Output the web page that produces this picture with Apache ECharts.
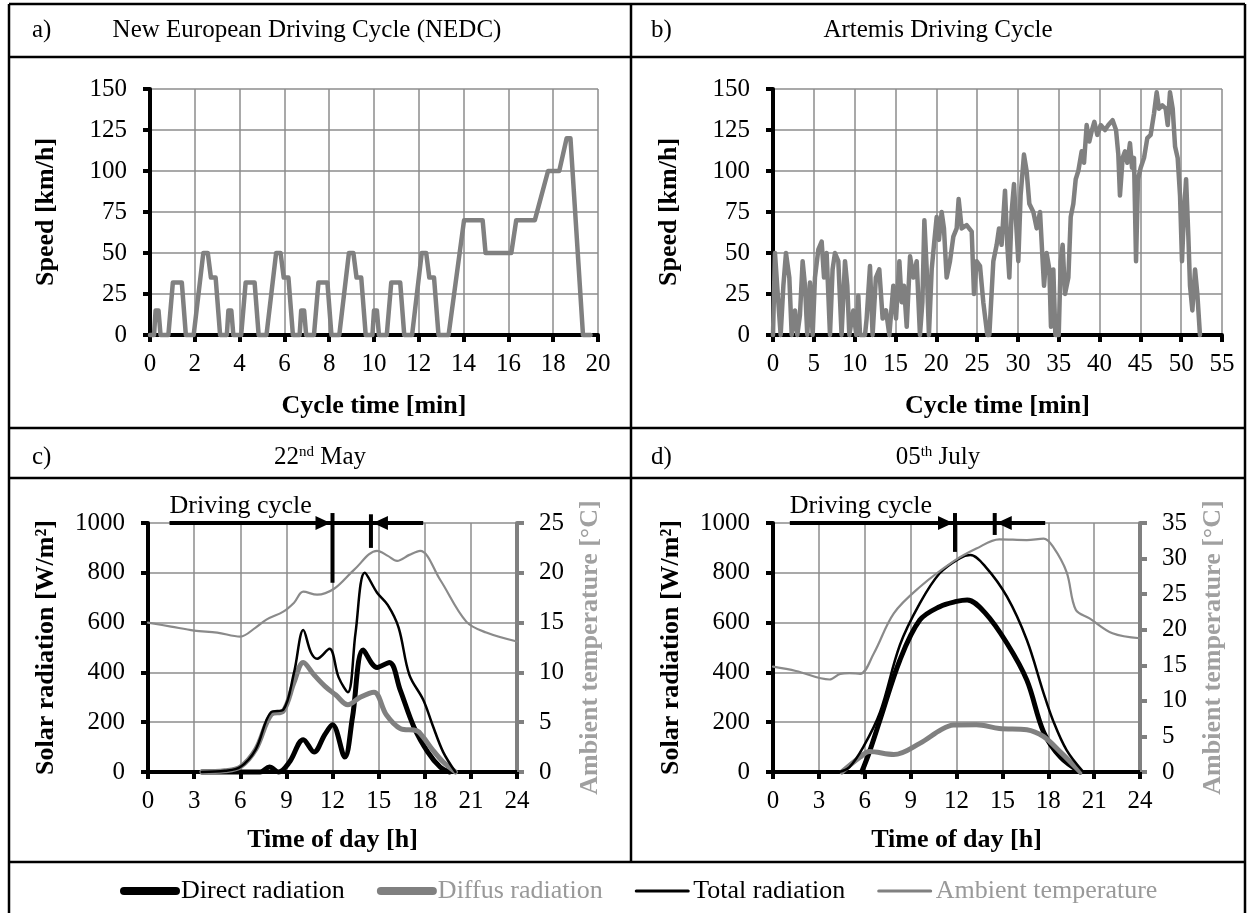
<!DOCTYPE html>
<html><head><meta charset="utf-8">
<script src="https://cdn.jsdelivr.net/npm/echarts@6/dist/echarts.min.js"></script>
<style>html,body{margin:0;padding:0;background:#fff}#c{width:1248px;height:913px}</style>
</head><body><div id="c"></div>
<script>
// ---------- DATA ----------
// a) NEDC  (time in min, speed in km/h)
const nedcTime = [0,0.18,0.25,0.38,0.47,0.82,1.02,1.42,1.6,1.95,2.38,2.58,2.72,2.93,3.13,3.25,
  3.43,3.5,3.63,3.72,4.07,4.27,4.67,4.85,5.2,5.63,5.83,5.97,6.18,6.38,6.5,
  6.68,6.75,6.88,6.97,7.32,7.52,7.92,8.1,8.45,8.88,9.08,9.22,9.43,9.63,9.75,
  9.93,10.0,10.13,10.22,10.57,10.77,11.17,11.35,11.7,12.13,12.33,12.47,12.68,12.88,13.0,
  13.33,14.02,14.85,14.98,16.13,16.35,17.18,17.77,18.27,18.6,18.77,19.33,19.67];
const nedcSpeed = [0,0,15,15,0,0,32,32,0,0,50,50,35,35,0,0,
  0,15,15,0,0,32,32,0,0,50,50,35,35,0,0,
  0,15,15,0,0,32,32,0,0,50,50,35,35,0,0,
  0,15,15,0,0,32,32,0,0,50,50,35,35,0,0,
  0,70,70,50,50,70,70,100,100,120,120,0,0];

// b) Artemis
const artTime = [0,0.24,0.65,0.94,1.27,1.59,2.0,2.29,2.7,2.98,3.3,3.63,3.92,4.2,4.53,4.86,5.14,5.55,5.96,6.25,6.57,6.98,7.3,7.59,8.0,8.4,8.82,9.1,9.35,9.84,10.2,10.45,10.66,11.27,11.47,11.88,12.2,12.6,13.02,13.43,13.84,14.25,14.74,15.07,15.48,15.76,16.05,16.38,16.79,17.2,17.6,18.0,18.3,18.54,18.83,19.1,19.44,19.72,20.05,20.33,20.66,20.94,21.27,21.68,22.09,22.5,22.74,23.11,23.72,24.34,24.62,24.95,25.36,25.76,26.25,26.5,26.99,27.4,27.69,28.0,28.42,28.7,28.95,29.23,29.52,29.76,30.05,30.33,30.74,31.07,31.4,31.89,32.3,32.71,33.03,33.2,33.52,33.85,34.05,34.34,34.59,35.0,35.24,35.48,35.77,36.18,36.47,36.79,37.08,37.4,37.81,38.1,38.42,38.75,39.07,39.36,39.73,40.14,40.67,41.08,41.6,42.02,42.3,42.5,42.83,43.12,43.4,43.73,43.98,44.22,44.47,44.71,45.04,45.45,45.85,46.26,46.67,47.0,47.28,47.69,48.1,48.35,48.63,48.96,49.25,49.57,49.86,50.1,50.35,50.6,50.88,51.08,51.37,51.7,51.98,52.3];
const artSpeed = [0,50,20,0,30,50,35,0,15,0,12,45,30,0,32,0,35,52,57,35,50,0,40,50,45,0,45,30,0,15,0,24,0,0,10,42,0,35,40,10,15,0,30,10,45,20,30,5,48,35,45,0,20,70,40,0,40,55,72,58,75,65,35,45,60,65,83,65,67,63,25,45,42,20,0,0,45,55,65,55,88,55,35,75,92,70,45,85,110,100,80,75,65,75,45,30,50,40,5,40,0,0,45,55,25,35,72,80,95,100,112,105,128,118,125,130,122,128,125,128,131,125,110,85,108,112,105,117,102,108,45,95,102,108,120,122,135,148,138,140,138,128,148,138,115,108,85,45,75,95,60,30,15,40,25,0];

// c) 22nd May (time of day in h, radiation W/m², temperature °C)
const mayTotalT = [3.5,5,6,7,8,8.8,9.5,10.1,10.6,11.0,11.8,12.4,13.0,13.5,14.1,14.9,15.6,16.3,17.0,17.9,18.5,19.2,20.0];
const mayTotal  = [0,5,20,90,240,250,400,570,480,455,495,380,320,560,800,720,670,580,390,290,190,80,0];
const mayDiffT  = [3.5,5,6,7,8,8.8,9.5,10.1,10.8,11.5,12.2,13.0,13.8,14.7,15.5,16.4,17.5,17.9,18.5,19.2,20.0];
const mayDiff   = [0,5,20,90,230,245,360,440,390,345,310,270,300,320,230,175,165,140,90,40,0];
const mayDirT   = [3.5,7.3,7.9,8.5,9.2,10.1,10.8,11.5,12.0,12.8,13.3,14.0,14.9,15.7,16.4,17.3,18.2,19.0,19.6];
const mayDir    = [0,0,20,0,40,130,80,150,190,60,220,490,420,440,330,180,80,20,0];
const mayTempT  = [0,1.5,3,4.5,6,7,7.7,8.8,9.5,10.1,11.0,12.1,13.4,14.9,15.6,16.2,17.0,17.7,19.0,20.7,22,24];
const mayTemp   = [15,14.6,14.2,14.0,13.6,14.5,15.3,16.1,17.0,18.1,17.8,18.4,20.3,22.2,21.7,21.2,21.8,22.2,19.3,15.1,14.0,13.1];

// d) 05th July
const julTotalT = [4.3,5.0,5.9,7.0,8.3,9.6,10.9,12.2,12.9,13.9,15.3,16.6,17.7,18.3,19.2,20.3];
const julTotal  = [0,20,100,240,510,677,798,858,871,824,704,530,316,209,88,0];
const julDirT   = [5.8,6.3,7.0,8.3,9.6,10.9,12.0,12.7,13.9,15.3,16.6,17.7,18.8,20.1];
const julDir    = [0,80,210,450,610,664,685,691,637,517,369,160,60,0];
const julDiffT  = [4.5,5.7,6.3,7.9,9.6,11.0,11.8,13.3,14.8,16.6,17.7,18.8,20.1];
const julDiff   = [0,60,82,70,115,170,189,190,175,170,142,80,0];
const julTempT  = [0,1.5,3.7,4.4,5.0,5.7,6.6,7.9,9.6,11.8,13.3,14.8,16.6,17.7,18.3,19.2,19.8,20.7,22.2,24];
const julTemp   = [14.8,14.2,13.0,13.8,13.9,13.8,16.7,22.3,26.0,29.6,31.4,32.7,32.6,32.8,31.7,28.1,22.8,21.6,19.5,18.8];

// driving-cycle annotation (c, d)
const cycleArrowFrom = [1.4, 1.1];
const cycleStart     = [12, 11.9];
const cycleEnd       = [14.5, 14.5];
const cycleArrowTo   = [17.9, 17.8];
const cycleArrowY    = [1000, 1000];
const bar1Range      = [[1040, 760], [1040, 884]];
const bar2Range      = [[1035, 900], [1040, 952]];

// texts
const headerLabels = ['a)', 'b)', 'c)', 'd)'];
const headerTitles = ['New European Driving Cycle (NEDC)', 'Artemis Driving Cycle', '22{sup|nd} May', '05{sup|th} July'];
const legendNames  = ['Direct radiation', 'Diffus radiation', 'Total radiation', 'Ambient temperature'];

// ---------- CHART ----------
const FONT = 'Liberation Serif';
const GRID_C = '#8c8c8c';
const GRAY = '#808080';
const TICK_FS = 25, NAME_FS = 26;
const chart = echarts.init(document.getElementById('c'), null, {renderer: 'canvas'});
const zip = (a, b) => a.map((v, i) => [v, b[i]]);
const plain = v => String(v);

function xAx(grid, max, interval, name, gap) {
  return {
    type: 'value', gridIndex: grid, min: 0, max: max, interval: interval,
    name: name, nameLocation: 'middle', nameGap: gap,
    nameTextStyle: {fontFamily: FONT, fontWeight: 'bold', fontSize: NAME_FS, color: '#000'},
    axisLine: {show: true, onZero: false, lineStyle: {color: '#000', width: 4}},
    axisTick: {show: true, inside: false, length: 7, lineStyle: {color: '#000', width: 4}},
    axisLabel: {color: '#000', fontFamily: FONT, fontSize: TICK_FS, margin: 17, formatter: plain},
    splitLine: {show: true, lineStyle: {color: GRID_C, width: 1.5}}
  };
}
function yAx(grid, max, interval, name, opts) {
  return Object.assign({
    type: 'value', gridIndex: grid, min: 0, max: max, interval: interval,
    name: name, nameLocation: 'middle', nameGap: 89, nameRotate: 90,
    nameTextStyle: {fontFamily: FONT, fontWeight: 'bold', fontSize: NAME_FS, color: '#000'},
    axisLine: {show: true, lineStyle: {color: '#000', width: 4}},
    axisTick: {show: true, inside: false, length: 7, lineStyle: {color: '#000', width: 4}},
    axisLabel: {color: '#000', fontFamily: FONT, fontSize: TICK_FS, margin: 23, formatter: plain},
    splitLine: {show: true, lineStyle: {color: GRID_C, width: 1.5}}
  }, opts || {});
}
function rightAx(grid, max, interval) {
  return yAx(grid, max, interval, 'Ambient temperature [°C]', {
    position: 'right', nameGap: 60,
    nameTextStyle: {fontFamily: FONT, fontWeight: 'bold', fontSize: NAME_FS, color: '#a0a0a0'},
    axisLine: {show: true, lineStyle: {color: GRAY, width: 4}},
    axisTick: {show: true, inside: false, length: 7, lineStyle: {color: GRAY, width: 4}},
    axisLabel: {color: '#000', fontFamily: FONT, fontSize: TICK_FS, margin: 22, formatter: plain},
    splitLine: {show: false}
  });
}
function ln(name, x, y, data, color, width, smooth) {
  return {
    type: 'line', name: name, xAxisIndex: x, yAxisIndex: y, data: data,
    symbol: 'none', showSymbol: false, smooth: smooth || false, animation: false,
    lineStyle: {color: color, width: width, cap: 'round', join: 'round'},
    itemStyle: {color: color}, clip: false
  };
}

const option = {
  animation: false,
  textStyle: {fontFamily: FONT},
  grid: [
    {left: 150, top: 89, width: 448, height: 246},
    {left: 773, top: 89, width: 449, height: 246},
    {left: 148, top: 523, width: 369, height: 249},
    {left: 773, top: 523, width: 367, height: 249}
  ],
  xAxis: [
    xAx(0, 20, 2, 'Cycle time [min]', 58),
    xAx(1, 55, 5, 'Cycle time [min]', 58),
    xAx(2, 24, 3, 'Time of day [h]', 55),
    xAx(3, 24, 3, 'Time of day [h]', 55)
  ],
  yAxis: [
    yAx(0, 150, 25, 'Speed [km/h]', {nameGap: 91}),
    yAx(1, 150, 25, 'Speed [km/h]', {nameGap: 91}),
    yAx(2, 1000, 200, 'Solar radiation [W/m²]'),
    rightAx(2, 25, 5),
    yAx(3, 1000, 200, 'Solar radiation [W/m²]'),
    rightAx(3, 35, 5)
  ],
  legend: {
    left: 115, top: 873, itemWidth: 52, itemHeight: 14, itemGap: 32,
    textStyle: {fontFamily: FONT, fontSize: 26},
    data: [
      {name: legendNames[0], textStyle: {color: '#000'}, lineStyle: {width: 8, color: '#000', cap: 'round'}, itemStyle: {opacity: 0}},
      {name: legendNames[1], textStyle: {color: '#999'}, lineStyle: {width: 8, color: GRAY, cap: 'round'}, itemStyle: {opacity: 0}},
      {name: legendNames[2], textStyle: {color: '#000'}, lineStyle: {width: 3, color: '#000'}, itemStyle: {opacity: 0}},
      {name: legendNames[3], textStyle: {color: '#999'}, lineStyle: {width: 3, color: GRAY}, itemStyle: {opacity: 0}}
    ]
  },
  series: [
    ln('NEDC', 0, 0, zip(nedcTime, nedcSpeed), GRAY, 4.5),
    ln('Artemis', 1, 1, zip(artTime, artSpeed), GRAY, 4.5),
    ln(legendNames[0], 2, 2, zip(mayDirT, mayDir), '#000', 5, 0.35),
    ln(legendNames[1], 2, 2, zip(mayDiffT, mayDiff), GRAY, 5, 0.35),
    ln(legendNames[2], 2, 2, zip(mayTotalT, mayTotal), '#000', 2.5, 0.35),
    ln(legendNames[3], 2, 3, zip(mayTempT, mayTemp), '#8a8a8a', 2.2, 0.35),
    ln(legendNames[0], 3, 4, zip(julDirT, julDir), '#000', 5, 0.35),
    ln(legendNames[1], 3, 4, zip(julDiffT, julDiff), GRAY, 5, 0.35),
    ln(legendNames[2], 3, 4, zip(julTotalT, julTotal), '#000', 2.5, 0.35),
    ln(legendNames[3], 3, 5, zip(julTempT, julTemp), '#8a8a8a', 2.2, 0.35)
  ]
};
chart.setOption(option);

// ---------- frame, headers, annotations ----------
const g = [];
const B = {stroke: '#000', lineWidth: 2.5};
function hline(x1, x2, y) { g.push({type: 'line', shape: {x1: x1, y1: y, x2: x2, y2: y}, style: B, z: 100}); }
function vline(x, y1, y2) { g.push({type: 'line', shape: {x1: x, y1: y1, x2: x, y2: y2}, style: B, z: 100}); }
hline(9, 1245, 4); hline(9, 1245, 57); hline(9, 1245, 428); hline(9, 1245, 478); hline(9, 1245, 862);
vline(9, 4, 913); vline(1245, 4, 913); vline(631, 4, 862);

const headerPos = [[32, 307, 30], [651, 938, 30], [32, 320, 457], [651, 938, 457]];
headerPos.forEach((p, i) => {
  g.push({type: 'text', x: p[0], y: p[2], style: {text: headerLabels[i], font: '25px "Liberation Serif"', fill: '#000', textAlign: 'left', textVerticalAlign: 'middle'}});
  g.push({type: 'text', x: p[1], y: p[2], style: {text: headerTitles[i], fontFamily: FONT, fontSize: 25, fill: '#000', textAlign: 'center', textVerticalAlign: 'middle',
    rich: {sup: {fontSize: 15, fontFamily: FONT, verticalAlign: 'top', padding: [0, 0, 10, 0]}}}});
});

[[2, 2], [3, 4]].forEach((ax, k) => {
  const P = (t, v) => chart.convertToPixel({xAxisIndex: ax[0], yAxisIndex: ax[1]}, [t, v]);
  const a0 = P(cycleArrowFrom[k], cycleArrowY[k]);
  const a1 = P(cycleArrowTo[k], cycleArrowY[k]);
  const s = P(cycleStart[k], cycleArrowY[k]);
  const e = P(cycleEnd[k], cycleArrowY[k]);
  const S = {stroke: '#000', lineWidth: 4};
  g.push({type: 'line', shape: {x1: a0[0], y1: a0[1], x2: a1[0], y2: a1[1]}, style: S, z: 50});
  const b1t = P(cycleStart[k], bar1Range[k][0]), b1b = P(cycleStart[k], bar1Range[k][1]);
  const b2t = P(cycleEnd[k], bar2Range[k][0]), b2b = P(cycleEnd[k], bar2Range[k][1]);
  g.push({type: 'line', shape: {x1: b1t[0], y1: b1t[1], x2: b1b[0], y2: b1b[1]}, style: S, z: 50});
  g.push({type: 'line', shape: {x1: b2t[0], y1: b2t[1], x2: b2b[0], y2: b2b[1]}, style: S, z: 50});
  g.push({type: 'polygon', shape: {points: [[s[0] - 2, s[1]], [s[0] - 17, s[1] - 7], [s[0] - 17, s[1] + 7]]}, style: {fill: '#000'}, z: 50});
  g.push({type: 'polygon', shape: {points: [[e[0] + 2, e[1]], [e[0] + 17, e[1] - 7], [e[0] + 17, e[1] + 7]]}, style: {fill: '#000'}, z: 50});
  g.push({type: 'text', x: a0[0], y: a0[1] - 4, style: {text: 'Driving cycle', font: '26px "Liberation Serif"', fill: '#000', textAlign: 'left', textVerticalAlign: 'bottom'}, z: 50});
});
chart.setOption({graphic: g});
</script></body></html>
